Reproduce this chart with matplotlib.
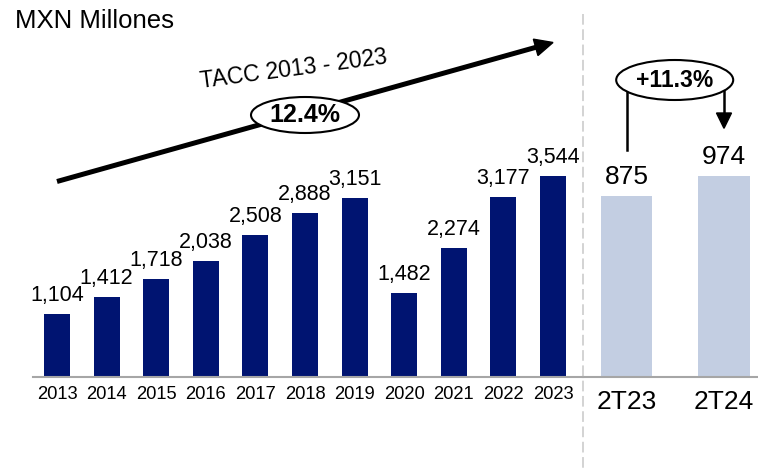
import numpy as np
import matplotlib
matplotlib.use('Agg')
import matplotlib.pyplot as plt
from matplotlib.patches import Ellipse, Polygon

# ---- data ----
years = ['2013', '2014', '2015', '2016', '2017', '2018', '2019', '2020', '2021', '2022', '2023']
values = [1104, 1412, 1718, 2038, 2508, 2888, 3151, 1482, 2274, 3177, 3544]
quarters = ['2T23', '2T24']
q_values = [875, 974]
unit_label = 'MXN Millones'
cagr_title = 'TACC 2013 - 2023'
cagr_label = '12.4%'
growth_label = '+11.3%'

plt.rcParams['font.family'] = ['Liberation Sans', 'DejaVu Sans']

NAVY = '#001471'
LIGHT = '#C3CEE2'
W, H = 758, 471
fig = plt.figure(figsize=(W / 100, H / 100), dpi=100)


def px(x0, y_top, x1, y_bot):
    return [x0 / W, 1 - y_bot / H, (x1 - x0) / W, (y_bot - y_top) / H]


base_y, top_y = 376.5, 14
axL = fig.add_axes(px(33, top_y, 583, base_y))
axR = fig.add_axes(px(583, top_y, 758, base_y))

xL = np.arange(len(years))
axL.bar(xL, values, width=0.524, color=NAVY, zorder=2)
axL.set_xlim(-0.484, 10.605)
axL.set_ylim(0, 6408)
for i, v in enumerate(values):
    axL.annotate(f'{v:,}', (xL[i], v), xytext=(0, 9.4), textcoords='offset points',
                 ha='center', va='baseline', fontsize=15.5, color='black')
axL.set_xticks(xL)
axL.set_xticklabels(years, fontsize=13.2)
axL.tick_params(axis='x', length=0, pad=6.5)

xR = np.arange(len(quarters))
axR.bar(xR, q_values, width=0.53, color=LIGHT, zorder=2)
axR.set_xlim(-0.447, 1.352)
axR.set_ylim(0, 1760.6)
for i, v in enumerate(q_values):
    axR.annotate(f'{v:,}', (xR[i], v), xytext=(0, 8.6), textcoords='offset points',
                 ha='center', va='baseline', fontsize=19, color='black')
axR.set_xticks(xR)
axR.set_xticklabels(quarters, fontsize=19)
axR.tick_params(axis='x', length=0, pad=9.5)

for ax in (axL, axR):
    ax.set_yticks([])
    for s in ('left', 'right', 'top'):
        ax.spines[s].set_visible(False)
    ax.spines['bottom'].set_color('#A6A6A6')
    ax.spines['bottom'].set_linewidth(1.5)
    ax.patch.set_alpha(0)

# ---- overlay in pixel coordinates ----
ov = fig.add_axes([0, 0, 1, 1], zorder=5)
ov.set_xlim(0, W)
ov.set_ylim(H, 0)
ov.axis('off')
ov.patch.set_alpha(0)

# separator
ov.plot([583.3, 583.3], [14, H], color='#C8C8C8', lw=1.1, dashes=(7, 3))

ov.text(15, 28.3, unit_label, fontsize=18.5, ha='left', va='baseline', color='black')

# CAGR arrow
p0 = np.array([57.0, 181.5])
p1 = np.array([553.0, 42.5])
u = (p1 - p0) / np.linalg.norm(p1 - p0)
n = np.array([-u[1], u[0]])
hl, hw = 18, 8.5
bc = p1 - hl * u
ov.plot([p0[0], bc[0] + u[0]], [p0[1], bc[1] + u[1]], color='black', lw=3.6, solid_capstyle='butt')
ov.add_patch(Polygon([p1, bc + hw * n, bc - hw * n], closed=True, color='black'))

ov.text(294.7, 75.3, cagr_title, fontsize=16.5, rotation=7.5, rotation_mode='anchor',
        ha='center', va='baseline', color='black')
ov.add_patch(Ellipse((305, 115), 108, 36, facecolor='white', edgecolor='black', lw=1.5, zorder=3))
ov.text(305, 121.7, cagr_label, fontsize=18, fontweight='bold', ha='center', va='baseline', zorder=4)

# growth annotation
ov.plot([626.7, 626.7], [80, 150], color='black', lw=1.8)
ov.plot([724, 724], [80, 114], color='black', lw=1.8)
ov.add_patch(Polygon([(724, 128.3), (716.5, 113), (731.5, 113)], closed=True, color='black'))
ov.add_patch(Ellipse((674.7, 80), 117, 40, facecolor='white', edgecolor='black', lw=1.5, zorder=3))
ov.text(674.5, 87.3, growth_label, fontsize=16.5, fontweight='bold', ha='center', va='baseline', zorder=4)

fig.savefig('out.png', dpi=100)
